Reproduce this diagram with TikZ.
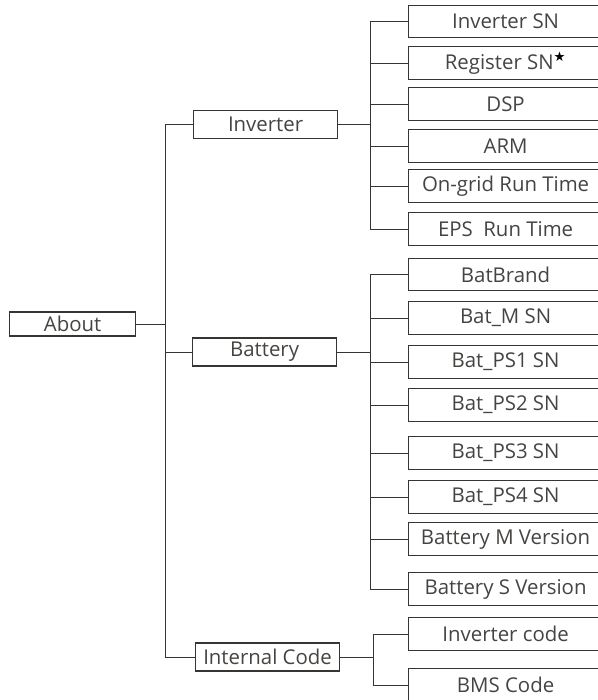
\documentclass[tikz,border=0pt]{standalone}
\usepackage{fontspec}
\setmainfont{Open Sans}
\newfontfamily\symfont{DejaVu Sans}
\usetikzlibrary{positioning}
\definecolor{framegray}{RGB}{55, 52, 50}
\definecolor{textgray}{RGB}{70, 68, 66}

\begin{document}
\begin{tikzpicture}[
        x=0.025cm, y=-0.025cm,
        box/.style={rectangle, draw=framegray, line width=0.8pt, text=textgray, anchor=west, inner sep=0pt, font=\fontsize{14.5}{16}\selectfont},
        rootbox/.style={box, minimum width=3.15cm, minimum height=0.6cm},
        midbox/.style={box, minimum width=3.6cm, minimum height=0.7cm},
        leafbox/.style={box, minimum width=4.85cm, minimum height=0.82cm},
        link/.style={draw=framegray, line width=0.6pt}
    ]
        \useasboundingbox (0,0) rectangle (598,700);
        \clip (0,0) rectangle (598,700);

        \node[rootbox] (about) at (9,324) {About};

        \node[midbox] (inverter) at (193,124.5) {Inverter};
        \node[midbox] (battery) at (192,352) {Battery};
        \node[midbox] (internal) at (195,657) {Internal Code};

        % Inverter items
        \node[leafbox] (invsn) at (408,21.5) {Inverter SN};
        \node[leafbox] (regsn) at (408,63) {Register SN\textsuperscript{\symfont\fontsize{9.5}{9.5}\selectfont\color{black}★}};
        \node[leafbox] (dsp) at (408,104) {DSP};
        \node[leafbox] (arm) at (408,146) {ARM};
        \node[leafbox] (ongrid) at (408,186) {On-grid Run Time};
        \node[leafbox] (eps) at (408,229) {EPS\ \ Run Time};

        % Battery items
        \node[leafbox] (batbrand) at (408,274.5) {BatBrand};
        \node[leafbox] (batm) at (408,318) {Bat\_M SN};
        \node[leafbox] (batps1) at (408,362) {Bat\_PS1 SN};
        \node[leafbox] (batps2) at (408,405) {Bat\_PS2 SN};
        \node[leafbox] (batps3) at (408,453) {Bat\_PS3 SN};
        \node[leafbox] (batps4) at (408,497) {Bat\_PS4 SN};
        \node[leafbox] (batmver) at (408,539) {Battery M Version};
        \node[leafbox] (batsver) at (408,589) {Battery S Version};

        % Internal code items
        \node[leafbox] (invcode) at (408,634) {Inverter code};
        \node[leafbox] (bmscode) at (408,685) {BMS Code};

        % Tree lines
        \foreach \m in {inverter,battery,internal}
            \draw[link] (about.east) -- ++(29,0) |- (\m.west);
        \foreach \c in {invsn,regsn,dsp,arm,ongrid,eps}
            \draw[link] (inverter.east) -- ++(32,0) |- (\c.west);
        \foreach \c in {batbrand,batm,batps1,batps2,batps3,batps4,batmver,batsver}
            \draw[link] (battery.east) -- ++(33,0) |- (\c.west);
        \foreach \c in {invcode,bmscode}
            \draw[link] (internal.east) -- ++(33,0) |- (\c.west);
    \end{tikzpicture}
\end{document}
